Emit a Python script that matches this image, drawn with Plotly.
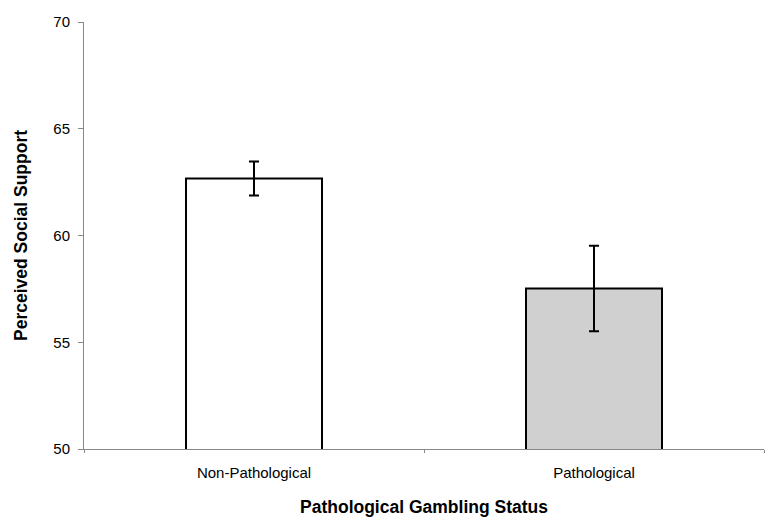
import plotly.graph_objects as go

categories = ["Non-Pathological", "Pathological"]
values = [62.67, 57.52]
errors = [0.8, 2.0]
colors = ["#ffffff", "#d0d0d0"]

fig = go.Figure()
fig.add_trace(go.Bar(
    x=categories, y=values,
    marker=dict(color=colors, line=dict(color="#000000", width=2)),
    width=0.4,
    error_y=dict(type="data", array=errors, visible=True, color="#000000", thickness=2, width=5),
))

font = "Liberation Sans, Arial, sans-serif"
fig.update_layout(
    width=774, height=522,
    margin=dict(l=76, r=18, t=5, b=81),
    plot_bgcolor="white", paper_bgcolor="white",
    showlegend=False,
    font=dict(family=font, size=15, color="#000000"),
)
fig.update_yaxes(
    range=[50, 70], tickvals=[50, 55, 60, 65, 70],
    showgrid=False, zeroline=False,
    showline=True, linecolor="#888888", linewidth=1,
    ticks="outside", ticklen=5, tickcolor="#888888",
    ticklabelstandoff=5, ticklabeloverflow="allow",
    tickfont=dict(size=15, family=font),
    title=dict(text="<b>Perceived Social Support</b>", font=dict(size=17.5, family=font), standoff=21),
)
fig.update_xaxes(
    showgrid=False, zeroline=False,
    showline=True, linecolor="#888888", linewidth=1,
    ticks="outside", ticklen=3, tickcolor="#888888", tickson="boundaries",
    ticklabelstandoff=10,
    tickfont=dict(size=15, family=font),
    title=dict(text="<b>Pathological Gambling Status</b>", font=dict(size=17.5, family=font), standoff=20),
)
fig.write_html("out.html")
